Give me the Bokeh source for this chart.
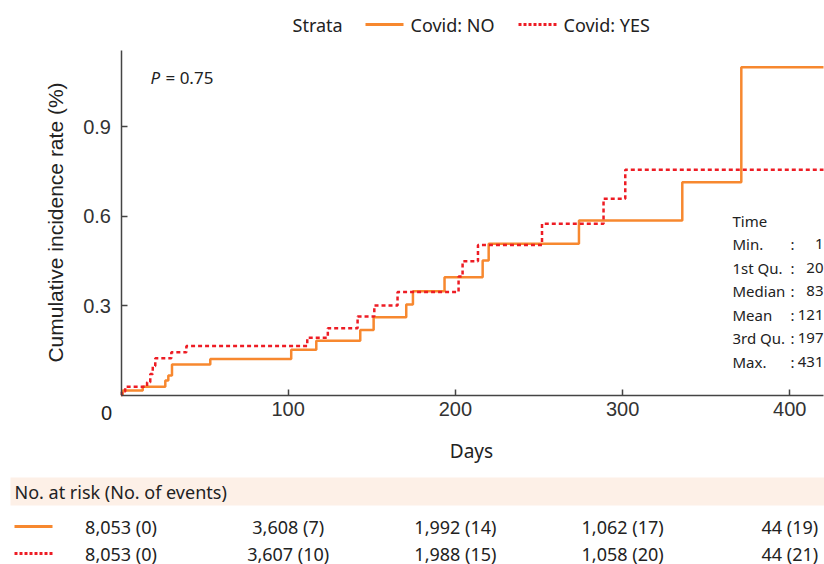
import math
from bokeh.plotting import figure
from bokeh.models import Range1d, FixedTicker, LinearAxis
from bokeh.core.properties import value
from bokeh.embed import file_html
from bokeh.resources import INLINE

# ---------------- data ----------------
strata = ["Covid: NO", "Covid: YES"]
no_days = [1, 13, 26.5, 28.3, 30.5, 53.4, 101.8, 116.8, 143.1, 151.1, 170.6,
           174.6, 193.5, 216.3, 219.9, 273.9, 335.7, 371.0]
no_vals = [0.015, 0.028, 0.049, 0.065, 0.102, 0.121, 0.152, 0.182, 0.218, 0.261,
           0.303, 0.348, 0.395, 0.451, 0.507, 0.585, 0.713, 1.099]
yes_days = [0.5, 2.5, 15.6, 17.5, 19, 20.5, 30.1, 39.1, 111.4, 123.7, 141.5, 151.5,
            165.4, 201.9, 204.3, 213.5, 251.8, 288.6, 301.6]
yes_vals = [0.012, 0.028, 0.043, 0.07, 0.097, 0.123, 0.143, 0.164, 0.192, 0.224,
            0.263, 0.300, 0.345, 0.397, 0.448, 0.503, 0.574, 0.658, 0.755]
x_ticks = [100, 200, 300, 400]
x_origin_label = "0"
y_ticks = [0.3, 0.6, 0.9]
x_title = "Days"
y_title = "Cumulative incidence rate (%)"
p_value = "0.75"
stat_title = "Time"
stat_names = ["Min.", "1st Qu.", "Median", "Mean", "3rd Qu.", "Max."]
stat_vals = ["1", "20", "83", "121", "197", "431"]
risk_title = "No. at risk (No. of events)"
risk_times = [0, 100, 200, 300, 400]
risk_no = ["8,053 (0)", "3,608 (7)", "1,992 (14)", "1,062 (17)", "44 (19)"]
risk_yes = ["8,053 (0)", "3,607 (10)", "1,988 (15)", "1,058 (20)", "44 (21)"]

# ---------------- style ----------------
ORANGE = "#F7882F"
RED = "#ED1C24"
DASH = "4 3"
BAND = "#FDF0E7"
TXT = "#222222"
AX = "#444444"
SANS = "Noto Sans"
ARIAL = "Liberation Sans"
W, H = 824, 564

# page pixel -> data helpers (x: 0 days at px 120.5, 1.672 px/day; y: 0 at py 394.5, 298.3 px/unit)
X0, Y0, PXD, PXU = 120.5, 394.5, 1.672, 298.3
def day(px):
    return (px - X0) / PXD
def val(py):
    return (Y0 - py) / PXU

XEND = day(823)
YEND = val(50)

p = figure(width=W, height=H, x_range=Range1d(day(0), day(W)), y_range=Range1d(val(H), val(0)),
           toolbar_location=None, output_backend="svg", title=None, min_border=0,
           x_axis_location=None, y_axis_location=None)
p.grid.visible = False
p.outline_line_color = None
p.background_fill_color = "white"
p.border_fill_color = "white"

xax = LinearAxis(fixed_location=0, bounds=(0, XEND), ticker=FixedTicker(ticks=x_ticks))
yax = LinearAxis(fixed_location=0, bounds=(0, YEND), ticker=FixedTicker(ticks=y_ticks))
for ax in (xax, yax):
    ax.axis_line_color = AX
    ax.axis_line_width = 1.5
    ax.major_tick_line_color = AX
    ax.major_tick_line_width = 1.5
    ax.major_tick_in = 6
    ax.major_tick_out = 0
    ax.minor_tick_line_color = None
    ax.major_label_text_font = ARIAL
    ax.major_label_text_font_size = "20px"
    ax.major_label_text_color = "#333333"
xax.major_label_standoff = 7
yax.major_label_standoff = 10
p.add_layout(xax, "below")
p.add_layout(yax, "left")

def txt(x, y, t, size, font=SANS, align="left", **kw):
    p.text(x=x, y=y, text=t, text_font=value(font), text_font_size=size,
           text_baseline="middle", text_align=align, text_color=TXT, **kw)

# axis titles and origin label
txt([day(106)], [val(412)], [x_origin_label], "20px", font=ARIAL, align="center")
txt([day(471)], [val(450)], [x_title], "19px", align="center")
txt([day(55)], [val(222)], [y_title], "21px", font=ARIAL, align="center", angle=math.pi / 2)

# curves
p.step(x=[0] + no_days + [XEND], y=[0] + no_vals + [no_vals[-1]], mode="after",
       line_color=ORANGE, line_width=2.5)
p.step(x=[0] + yes_days + [XEND], y=[0] + yes_vals + [yes_vals[-1]], mode="after",
       line_color=RED, line_width=2.5, line_dash=DASH)

# legend
txt([day(292)], [val(24)], ["Strata"], "18px")
p.line([day(365), day(403)], [val(24)] * 2, line_color=ORANGE, line_width=3)
txt([day(410)], [val(24)], [strata[0]], "18px")
p.line([day(518), day(556)], [val(24)] * 2, line_color=RED, line_width=3, line_dash="3 2")
txt([day(563)], [val(24)], [strata[1]], "18px")

# p-value
txt([day(150)], [val(77)], ["P"], "17px", text_font_style="italic")
txt([day(165)], [val(77)], ["= " + p_value], "17px")

# summary box
row_y = [val(243.5 + 23.5 * i) for i in range(len(stat_names))]
n = len(stat_names)
txt([day(732)], [val(220)], [stat_title], "15px")
txt([day(732)] * n, row_y, stat_names, "15px")
txt([day(792)] * n, row_y, [":"] * n, "15px", align="center")
txt([day(823)] * n, row_y, stat_vals, "15px", align="right")

# risk table
p.quad(left=[day(10)], right=[day(824)], top=[val(477)], bottom=[val(505)],
       fill_color=BAND, line_color=None)
txt([day(14)], [val(491)], [risk_title], "18px")
R1, R2 = val(526), val(553)
p.line([day(14), day(52)], [R1, R1], line_color=ORANGE, line_width=3)
p.line([day(14), day(52)], [R2, R2], line_color=RED, line_width=3, line_dash="3 2")
txt(risk_times, [R1] * len(risk_times), risk_no, "18px", align="center")
txt(risk_times, [R2] * len(risk_times), risk_yes, "18px", align="center")

open("out.html", "w").write(file_html(p, INLINE))
